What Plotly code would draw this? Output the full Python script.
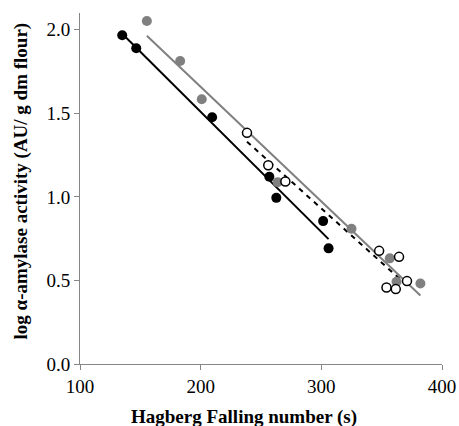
import numpy as np
import plotly.graph_objects as go

# Series 1 (filled black)
black_x = [135, 146.6, 209.5, 256.9, 262.7, 301.5, 306]
black_y = [1.967, 1.889, 1.476, 1.12, 0.994, 0.855, 0.692]
# Series 2 (filled gray)
gray_x = [155.4, 183, 200.9, 263.8, 325, 356.7, 362.3, 382.1]
gray_y = [2.052, 1.813, 1.584, 1.088, 0.809, 0.632, 0.492, 0.482]
# Series 3 (open circles)
open_x = [238.4, 256, 270.2, 347.9, 364.4, 354, 361.7, 371]
open_y = [1.383, 1.189, 1.092, 0.677, 0.641, 0.458, 0.448, 0.496]

x_ticks = [100, 200, 300, 400]
y_ticks = [0.0, 0.5, 1.0, 1.5, 2.0]

FONT = "Liberation Serif"
AXC = "#868686"


def trend(xs, ys):
    a, b = np.polyfit(xs, ys, 1)
    xx = np.array([min(xs), max(xs)])
    return xx, a * xx + b


fig = go.Figure()

for xs, ys, col, dash in [
    (black_x, black_y, "black", "solid"),
    (gray_x, gray_y, "#808080", "solid"),
    (open_x, open_y, "black", "5px,5px"),
]:
    tx, ty = trend(xs, ys)
    fig.add_trace(go.Scatter(x=tx, y=ty, mode="lines",
                             line=dict(color=col, width=2, dash=dash),
                             hoverinfo="skip", showlegend=False))

fig.add_trace(go.Scatter(x=black_x, y=black_y, mode="markers",
                         marker=dict(size=10, color="black"), showlegend=False))
fig.add_trace(go.Scatter(x=gray_x, y=gray_y, mode="markers",
                         marker=dict(size=10, color="#808080"), showlegend=False))
fig.add_trace(go.Scatter(x=open_x, y=open_y, mode="markers",
                         marker=dict(size=9, color="white",
                                     line=dict(color="black", width=1.5)),
                         showlegend=False))

fig.update_layout(
    width=459, height=426, autosize=False,
    margin=dict(l=80, r=17, t=13, b=62, autoexpand=False),
    plot_bgcolor="white", paper_bgcolor="white",
    font=dict(family=FONT, size=19, color="black"),
    xaxis=dict(range=[100, 400], tickvals=x_ticks, ticktext=[str(v) for v in x_ticks],
               showline=True, linecolor=AXC, linewidth=1, showgrid=False, zeroline=False,
               ticks="outside", ticklen=5, tickcolor=AXC, tickwidth=1, automargin=False,
               tickfont=dict(family=FONT, size=19, color="black")),
    yaxis=dict(range=[0, 2.1], tickvals=y_ticks, ticktext=[f"{v:.1f}" for v in y_ticks],
               showline=True, linecolor=AXC, linewidth=1, showgrid=False, zeroline=False,
               ticks="outside", ticklen=5, tickcolor=AXC, tickwidth=1, automargin=False,
               tickfont=dict(family=FONT, size=19, color="black")),
    annotations=[
        dict(text="<b>Hagberg Falling number (s)</b>", xref="paper", yref="paper",
             x=0.454, y=-0.15, xanchor="center", yanchor="middle", showarrow=False,
             font=dict(family=FONT, size=19, color="black")),
        dict(text="<b>log α-amylase activity (AU/ g dm flour)</b>", xref="paper", yref="paper",
             x=-0.162, y=0.521, xanchor="center", yanchor="middle", showarrow=False,
             textangle=-90, font=dict(family=FONT, size=19, color="black")),
    ],
)

fig.write_html("out.html",
               config={"displayModeBar": False, "responsive": False},
               post_script="document.body.style.margin='0px';document.body.style.overflow='hidden';")
